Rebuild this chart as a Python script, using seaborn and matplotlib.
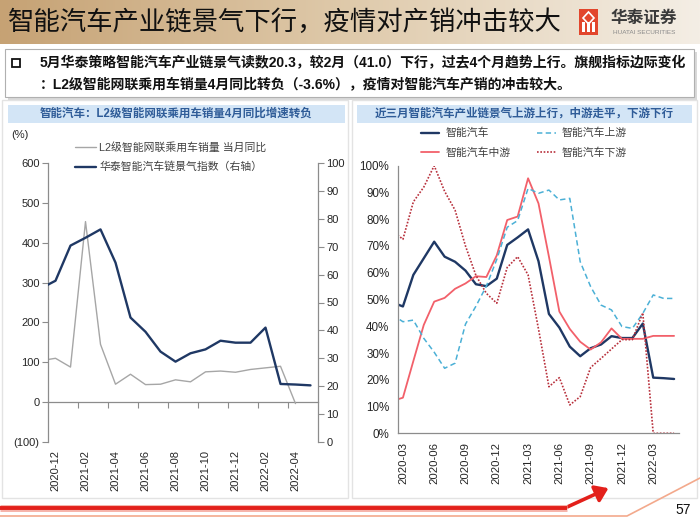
import numpy as np
import pandas as pd
import matplotlib
matplotlib.use("Agg")
import matplotlib.pyplot as plt
import seaborn as sns
from matplotlib.lines import Line2D
from matplotlib.patches import Rectangle, FancyArrowPatch, Polygon
from matplotlib.colors import LinearSegmentedColormap
from matplotlib.ticker import FuncFormatter

# ---------------- data ----------------
left_months = ["2020-11", "2020-12", "2021-01", "2021-02", "2021-03", "2021-04",
               "2021-05", "2021-06", "2021-07", "2021-08", "2021-09", "2021-10",
               "2021-11", "2021-12", "2022-01", "2022-02", "2022-03", "2022-04",
               "2022-05"]
l2_yoy = [104, 110, 88, 453, 145, 45, 70, 44, 45, 56, 51, 76, 78, 75, 82, 86, 90, -3.6]
htsc_index = [55.0, 57.8, 70.4, 73.2, 76.2, 64.3, 44.6, 39.5, 32.4, 28.8, 31.8,
              33.2, 36.3, 35.6, 35.6, 41.0, 20.8, 20.6, 20.3]
left_tick_labels = ["2020-12", "2021-02", "2021-04", "2021-06", "2021-08",
                    "2021-10", "2021-12", "2022-02", "2022-04"]

right_months = ["2020-02", "2020-03", "2020-04", "2020-05", "2020-06", "2020-07",
                "2020-08", "2020-09", "2020-10", "2020-11", "2020-12", "2021-01",
                "2021-02", "2021-03", "2021-04", "2021-05", "2021-06", "2021-07",
                "2021-08", "2021-09", "2021-10", "2021-11", "2021-12", "2022-01",
                "2022-02", "2022-03", "2022-04", "2022-05"]
smart_car = [48.9, 47.4, 59.2, 65.4, 71.6, 66.0, 64.1, 60.8, 55.7, 55.0, 57.8,
             70.4, 73.2, 76.2, 64.3, 44.6, 39.5, 32.4, 28.8, 31.8, 33.2, 36.3,
             35.6, 35.6, 41.0, 20.8, 20.6, 20.3]
smart_mid = [12.1, 13.3, 27.0, 40.5, 49.2, 50.6, 54.0, 56.0, 58.7, 58.4, 66.5,
             79.7, 81.0, 95.3, 85.9, 66.0, 45.5, 39.0, 34.2, 31.3, 34.0, 39.2,
             35.3, 35.3, 35.3, 36.4, 36.4, 36.4]
smart_up = [44.3, 41.7, 42.3, 35.5, 30.3, 24.3, 26.2, 40.8, 47.5, 55.0, 65.0,
            77.0, 79.5, 91.5, 89.7, 90.9, 87.2, 87.8, 64.1, 54.8, 47.9, 46.1,
            39.9, 39.2, 44.8, 51.7, 50.4, 50.4]
smart_down = [75.7, 72.5, 86.5, 92.0, 100.0, 90.4, 83.4, 70.0, 59.0, 52.3, 48.6,
              62.0, 66.0, 59.2, 39.0, 17.4, 20.8, 10.6, 13.7, 24.6, 28.0, 31.5,
              35.0, 35.0, 45.0, 0.0, 0.0, 0.0]
right_tick_labels = ["2020-03", "2020-06", "2020-09", "2020-12", "2021-03",
                     "2021-06", "2021-09", "2021-12", "2022-03"]

# ---------------- style ----------------
sns.set_style("white")
plt.rcParams["font.family"] = ["Liberation Sans", "Noto Sans CJK SC", "DejaVu Sans"]
plt.rcParams["axes.unicode_minus"] = False

W, H = 700, 525
def fx(px): return px / W
def fy(py): return 1 - py / H

GRAY_AX = "#8c8c8c"
NAVY = "#1f3864"
TXT = "#262626"

fig = plt.figure(figsize=(7, 5.25), dpi=100)
fig.patch.set_facecolor("white")
bg = fig.add_axes([0, 0, 1, 1], zorder=0)
bg.set_xlim(0, W); bg.set_ylim(H, 0); bg.axis("off")

# banner gradient
cmap = LinearSegmentedColormap.from_list("ban", ["#c6a274", "#dfcaab", "#f4eee5"])
grad = np.linspace(0, 1, 256).reshape(1, -1)
bg.imshow(grad, extent=[0, W, 44, 0], aspect="auto", cmap=cmap, zorder=0)
bg.text(8, 22, "智能汽车产业链景气下行，疫情对产销冲击较大", fontsize=19,
        color="#111111", va="center", ha="left")
# logo
bg.add_patch(Rectangle((579, 9), 19, 26, facecolor="#e2462c", edgecolor="none", zorder=2))
for cx in (583.5, 588.5, 593.5):
    bg.add_patch(Rectangle((cx - 1.2, 22), 2.4, 10, facecolor="white", edgecolor="none", zorder=3))
bg.add_patch(Polygon([[588.5, 12], [594, 18], [588.5, 24], [583, 18]], closed=True,
                     facecolor="none", edgecolor="white", lw=1.2, zorder=3))
bg.text(644, 18, "华泰证券", fontsize=12, fontweight="bold", color="#3a3a3a",
        ha="center", va="center")
bg.text(644, 33, "HUATAI SECURITIES", fontsize=4.6, color="#8a8a8a",
        ha="center", va="center")

# bullet box
bg.add_patch(Rectangle((8, 52), 689, 48, facecolor="#d9d9d9", edgecolor="none", zorder=1))
bg.add_patch(Rectangle((5, 49), 689, 48, facecolor="white", edgecolor="#b0b0b0", lw=0.8, zorder=2))
bg.add_patch(Rectangle((12, 59), 8, 8, facecolor="none", edgecolor="#111111", lw=1.3, zorder=3))
bg.text(40, 63, "5月华泰策略智能汽车产业链景气读数20.3，较2月（41.0）下行，过去4个月趋势上行。旗舰指标边际变化",
        fontsize=10, fontweight="bold", color="#111111", va="center", ha="left", zorder=3)
bg.text(40, 84, "：L2级智能网联乘用车销量4月同比转负（-3.6%），疫情对智能汽车产销的冲击较大。",
        fontsize=10, fontweight="bold", color="#111111", va="center", ha="left", zorder=3)

# panel frames and title bars
bg.add_patch(Rectangle((2, 100), 346, 398, facecolor="none", edgecolor="#e3e3e3", lw=1.0))
bg.add_patch(Rectangle((352, 100), 345, 398, facecolor="none", edgecolor="#e3e3e3", lw=1.0))
bg.add_patch(Rectangle((8, 105), 337, 18, facecolor="#d3e5f6", edgecolor="none"))
bg.add_patch(Rectangle((357, 105), 335, 18, facecolor="#d3e5f6", edgecolor="none"))
bg.text(176, 114, "智能汽车：L2级智能网联乘用车销量4月同比增速转负", fontsize=8.3,
        fontweight="bold", color="#2f5c98", ha="center", va="center")
bg.text(524, 114, "近三月智能汽车产业链景气上游上行，中游走平，下游下行", fontsize=8.3,
        fontweight="bold", color="#2f5c98", ha="center", va="center")
bg.text(20, 135, "(%)", fontsize=8, color=TXT, ha="center", va="center")

# bottom decoration
bg.plot([0, 567], [508, 508], color="#f6b3aa", lw=5.0, solid_capstyle="butt")
bg.plot([0, 567], [508, 508], color="#e3201b", lw=2.8, solid_capstyle="butt")
bg.add_patch(FancyArrowPatch((565, 508), (611, 487), arrowstyle="-|>,head_length=5,head_width=3.5",
                             color="#e3201b", lw=2.6, mutation_scale=1.5))
bg.plot([0, 627, 700], [516, 516, 478], color="#f3a98c", lw=1.2)
bg.text(683, 510, "57", fontsize=10, color="#111111", ha="center", va="center")

# ---------------- left chart ----------------
axL = fig.add_axes([fx(48), fy(442), (318 - 48) / W, (442 - 163) / H], zorder=2)
axL.patch.set_alpha(0)
axL2 = axL.twinx()
axL2.patch.set_alpha(0)

df_l2 = pd.DataFrame({"month": left_months[:len(l2_yoy)], "v": l2_yoy})
df_l2["pos"] = np.arange(len(df_l2))
df_ix = pd.DataFrame({"month": left_months, "v": htsc_index})
df_ix["pos"] = np.arange(len(df_ix))

sns.lineplot(data=df_l2, x="pos", y="v", ax=axL, color="#a6a6a6", lw=1.0, sort=False)
sns.lineplot(data=df_ix, x="pos", y="v", ax=axL2, color=NAVY, lw=1.7, sort=False)

axL.set_xlim(0.5, len(left_months) - 0.5)
axL.set_ylim(-100, 600)
axL2.set_ylim(0, 100)
axL.set_yticks(np.arange(-100, 601, 100))
axL.yaxis.set_major_formatter(FuncFormatter(lambda v, p: f"({int(-v)})" if v < 0 else f"{int(v)}"))
axL2.set_yticks(np.arange(0, 101, 10))
lpos = [left_months.index(m) for m in left_tick_labels]
axL.set_xticks(lpos)
axL.set_xticklabels(left_tick_labels, rotation=90)
axL.tick_params(axis="x", length=0, pad=6, labelsize=8, labelcolor=TXT)
axL.tick_params(axis="y", direction="out", length=4, width=0.8, color=GRAY_AX,
                labelsize=8, labelcolor=TXT, pad=2)
axL2.tick_params(axis="y", direction="out", length=4, width=0.8, color=GRAY_AX,
                 labelsize=8, labelcolor=TXT, pad=2)
for a in (axL, axL2):
    a.set_xlabel(""); a.set_ylabel("")
    for s in a.spines.values():
        s.set_visible(False)
axL.spines["left"].set_visible(True); axL.spines["left"].set_color(GRAY_AX)
axL2.spines["right"].set_visible(True); axL2.spines["right"].set_color(GRAY_AX)
axL.spines["left"].set_linewidth(0.9)
axL2.spines["right"].set_linewidth(0.9)

sec = axL.secondary_xaxis(100 / 700)
sec.set_xticks(np.arange(2.5, len(left_months) - 2, 2))
sec.tick_params(axis="x", direction="out", length=4, width=0.8, color=GRAY_AX, labelbottom=False)
sec.spines["bottom"].set_color(GRAY_AX)
sec.spines["bottom"].set_linewidth(0.9)

hL = [Line2D([], [], color="#a6a6a6", lw=1.0), Line2D([], [], color=NAVY, lw=1.7)]
leg = axL2.legend(hL, ["L2级智能网联乘用车销量 当月同比", "华泰智能汽车链景气指数（右轴）"],
                  loc="upper left", bbox_to_anchor=(fx(75), fy(141.5)),
                  bbox_transform=fig.transFigure, frameon=False, fontsize=7.8,
                  handlelength=1.9, handletextpad=0.35, labelspacing=0.85,
                  borderpad=0, borderaxespad=0)
for t in leg.get_texts():
    t.set_color("#404040")

# ---------------- right chart ----------------
axR = fig.add_axes([fx(397.7), fy(433.3), 281.6 / W, 267.6 / H], zorder=2)
axR.patch.set_alpha(0)
rpos = np.arange(len(right_months))
series = [
    (smart_car, "智能汽车", NAVY, "-", 1.7),
    (smart_mid, "智能汽车中游", "#f2606a", "-", 1.3),
    (smart_up, "智能汽车上游", "#4bb0d6", (0, (3.5, 2.2)), 1.1),
    (smart_down, "智能汽车下游", "#b8303c", (0, (1, 1)), 1.2),
]
handles = []
for vals, name, col, ls, lw in series:
    d = pd.DataFrame({"month": right_months, "pos": rpos, "v": vals})
    sns.lineplot(data=d, x="pos", y="v", ax=axR, color=col, lw=lw, linestyle=ls, sort=False)
    handles.append(Line2D([], [], color=col, lw=lw, linestyle=ls))
axR.set_xlim(0.5, len(right_months) - 0.5)
axR.set_ylim(0, 100)
axR.set_yticks(np.arange(0, 101, 10))
axR.yaxis.set_major_formatter(FuncFormatter(lambda v, p: f"{int(v)}%"))
rtick = [right_months.index(m) for m in right_tick_labels]
axR.set_xticks(rtick)
axR.set_xticklabels(right_tick_labels, rotation=90)
axR.set_xticks(np.arange(0.5, len(right_months), 3), minor=True)
axR.tick_params(axis="x", which="major", length=0, pad=6, labelsize=8.2, labelcolor=TXT)
axR.tick_params(axis="x", which="minor", direction="out", length=4, width=0.8, color=GRAY_AX)
axR.tick_params(axis="y", direction="out", length=4, width=0.8, color=GRAY_AX,
                labelsize=8.4, labelcolor=TXT, pad=2)
axR.set_xlabel(""); axR.set_ylabel("")
axR.spines["top"].set_visible(False); axR.spines["right"].set_visible(False)
for s in ("left", "bottom"):
    axR.spines[s].set_color(GRAY_AX); axR.spines[s].set_linewidth(0.9)

legR = axR.legend(handles, [s[1] for s in series],
                  ncol=2, loc="upper left", bbox_to_anchor=(fx(421), fy(128)),
                  bbox_transform=fig.transFigure, frameon=False, fontsize=7.8,
                  handlelength=1.7, handletextpad=0.6, columnspacing=2.4,
                  labelspacing=0.85, borderpad=0, borderaxespad=0)
for t in legR.get_texts():
    t.set_color("#404040")

fig.savefig("out.png", dpi=100, facecolor="white")
